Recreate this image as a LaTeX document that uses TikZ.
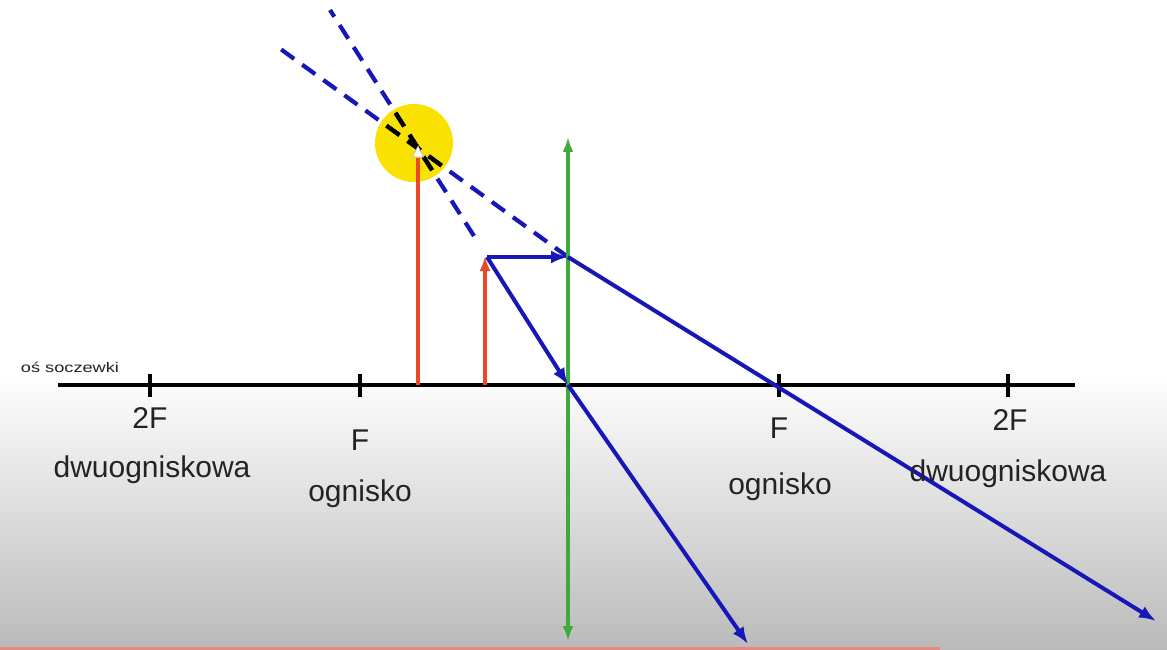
\documentclass[tikz,border=0pt]{standalone}
\usepackage{fontspec}
\setmainfont{Liberation Sans}
\usetikzlibrary{arrows.meta}
\definecolor{rayblue}{RGB}{22,22,185}
\definecolor{objred}{RGB}{235,72,40}
\definecolor{lensgreen}{RGB}{60,170,60}
\definecolor{sunyellow}{RGB}{250,226,0}
\definecolor{txtgray}{RGB}{35,35,35}
\definecolor{barred}{RGB}{232,135,125}
\tikzset{
  lab/.style={font=\fontsize{30}{32}\selectfont, text=txtgray, inner sep=0pt},
  ray/.style={draw=rayblue, line width=4pt, -{Latex[length=17pt,width=13pt]}},
  dashray/.style={draw=rayblue, line width=4.2pt, dash pattern=on 16pt off 10pt},
  blackdash/.style={draw=black, line width=4.2pt, dash pattern=on 16pt off 10pt},
  objarrow/.style={draw=objred, line width=3.8pt},
  tickmark/.style={draw=black, line width=4pt},
}
\begin{document}
\begin{tikzpicture}[x=1pt,y=-1pt]
\useasboundingbox (0,0) rectangle (1167,650);
\fill[white] (0,0) rectangle (1167,650);
\shade[top color=white, bottom color=black!27] (0,372) rectangle (1167,650);
\draw[barred, line width=3pt] (0,648.5) -- (940,648.5);

% coordinates
\coordinate (Ax0) at (58,385);
\coordinate (Ax1) at (1075,385);
\coordinate (O) at (487,257);
\coordinate (Obase) at (485,385);
\coordinate (Itop) at (418,158);
\coordinate (Ibase) at (418,385);
\coordinate (L1) at (568,257);
\coordinate (L0) at (568,385);
\coordinate (LT) at (568,137);
\coordinate (LB) at (568,641);
\coordinate (Fr) at (779,385);
\coordinate (E1) at (1156,621);
\coordinate (E2) at (748,644);
\coordinate (D1) at (275,45);
\coordinate (D2) at (330,10);
\coordinate (S2) at (474,236);
\coordinate (Sun) at (414,143);

% sun
\fill[sunyellow] (Sun) circle (39);

% dashed backward extensions
\draw[dashray] (L1) -- (D1);
\draw[dashray] (S2) -- (D2);
\begin{scope}
  \clip (Sun) circle (39);
  \draw[blackdash] (L1) -- (D1);
  \draw[blackdash] (S2) -- (D2);
\end{scope}

% axis
\draw[black, line width=4.5pt] (Ax0) -- (Ax1);
\foreach \n/\x in {t1/150, t2/360, t3/779, t4/1008}
  \draw[tickmark] (\x,374) -- (\x,397);

% lens
\draw[draw=lensgreen, line width=3.6pt, {Latex[length=15pt,width=11pt]}-{Latex[length=15pt,width=11pt]}] (LT) -- (LB);

% object and image
\draw[objarrow, -{Latex[length=15pt,width=11pt]}] (Obase) -- (485,256);
\draw[objarrow] (Ibase) -- (Itop);
\fill[white, draw=gray!60, line width=0.6pt] (418,146) -- (412.5,157) -- (423.5,157) -- cycle;

% rays
\draw[ray] (O) -- (L1);
\draw[ray] (L1) -- (E1);
\draw[ray] (O) -- (L0);
\draw[ray] (L0) -- (E2);

% labels
\node[font=\fontsize{14}{14}\selectfont, text=txtgray, inner sep=0pt, xscale=1.3, transform shape] (os) at (70,367) {oś soczewki};
\node[lab] (a1) at (150,418) {2F};
\node[lab] (a2) at (360,440) {F};
\node[lab] (a3) at (152,470) {dwuogniskowa};
\node[lab] (a4) at (360,494) {ognisko};
\node[lab] (b1) at (779,428) {F};
\node[lab] (b2) at (780,487) {ognisko};
\node[lab] (b3) at (1010,420) {2F};
\node[lab] (b4) at (1008,474) {dwuogniskowa};
\end{tikzpicture}
\end{document}
